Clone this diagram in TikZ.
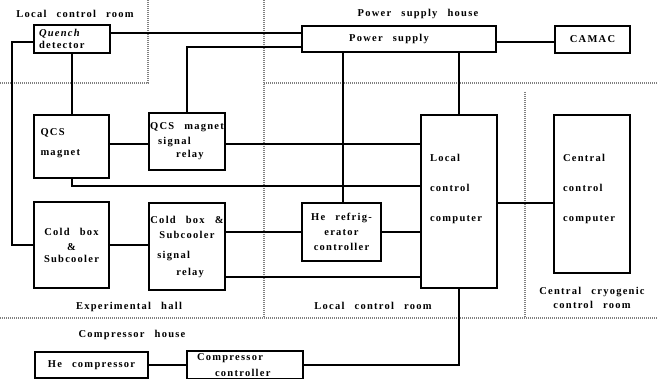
\documentclass[tikz,border=0pt]{standalone}
\usepackage{fontspec}
\setmainfont{Liberation Serif}[LetterSpace=12,WordSpace=2.6]
\begin{document}
\begin{tikzpicture}[x=1pt, y=-1pt,
    block/.style={rectangle, draw=black, line width=2.4pt, inner sep=1pt, font=\bfseries\fontsize{10.5}{12}\selectfont},
    wire/.style={black, line width=2pt},
    room/.style={draw=black!50, line width=1.8pt, dash pattern=on 1pt off 1pt},
    lbl/.style={font=\bfseries\fontsize{10.5}{12}\selectfont, inner sep=1pt, align=center}]

    \useasboundingbox (0,0) rectangle (658,379);

    % Room borders
    \draw[room] (148,0) -- (148,83) -- (0,83);
    \draw[room] (264,0) -- (264,318);
    \draw[room] (264,83) -- (658,83);
    \draw[room] (525,92) -- (525,318);
    \draw[room] (0,318) -- (658,318);

    % Top row
    \node[block, minimum width=76pt, minimum height=28pt, text width=66pt, align=left] (QD) at (72, 39) {\textit{Quench}\\detector};
    \node[block, minimum width=194pt, minimum height=26pt] (PS) at (399, 39) {Power supply\hspace*{20pt}};
    \node[block, minimum width=75pt, minimum height=27pt] (CAMAC) at (592.5, 39.5) {CAMAC};

    % Experimental hall
    \node[block, minimum width=75pt, minimum height=63pt, text width=62pt, align=left] (QM) at (71.5, 146.5) {QCS\\[8pt]magnet\\[-4pt]\mbox{}};
    \node[block, minimum width=76pt, minimum height=57pt, align=left] (QR) at (187, 141.5) {QCS magnet\\[3pt]\hspace*{8pt}signal\\[1pt]\hspace*{26pt}relay};
    \node[block, minimum width=75pt, minimum height=86pt, align=center] (CB) at (71.5, 245) {Cold box\\[3pt]\&\\Subcooler};
    \node[block, minimum width=76pt, minimum height=87pt, align=left] (CR) at (187, 246.5) {Cold box \&\\[3pt]\hspace*{9pt}Subcooler\\[8pt]\hspace*{7pt}signal\\[5pt]\hspace*{26pt}relay};

    % Local control room
    \node[block, minimum width=79pt, minimum height=58pt, align=center] (HR) at (341.5, 232) {He refrig-\\[3pt]erator\\[3pt]controller};
    \node[block, minimum width=76pt, minimum height=173pt, text width=58pt, align=left] (LC) at (459, 201.5) {Local\\[18pt]control\\[18pt]computer\\[15pt]\mbox{}};

    % Central cryogenic control room
    \node[block, minimum width=76pt, minimum height=158pt, text width=58pt, align=left] (CC) at (592, 194) {Central\\[18pt]control\\[18pt]computer\\[0pt]\mbox{}};

    % Compressor house
    \node[block, minimum width=113pt, minimum height=26pt] (HC) at (91.5, 365) {He compressor};
    \node[block, minimum width=116pt, minimum height=28pt, text width=100pt, align=left] (CpC) at (245, 365) {\hspace*{2pt}Compressor\\[4pt]\hspace*{20pt}controller};

    % Connections
    \draw[wire] ([yshift=6pt]QD.east) -- ([yshift=6pt]QD.east -| PS.west);
    \draw[wire] ([yshift=-8pt]PS.west) -| (QR.north);
    \draw[wire] (QD.south) -- (QD.south |- QM.north);
    \draw[wire] ([yshift=-3pt]QD.west) -- ++(-21,0) |- (CB.west);
    \draw[wire] ([yshift=2.5pt]QM.east) -- ([yshift=2.5pt]QM.east -| QR.west);
    \draw[wire] ([yshift=2.5pt]QM.east -| QR.east) -- ([yshift=2.5pt]QM.east -| LC.west);
    \draw[wire] ([xshift=0.5pt]QM.south) |- ([yshift=15.5pt]LC.west);
    \draw[wire] ([xshift=1.5pt]HR.north |- PS.south) -- ([xshift=1.5pt]HR.north);
    \draw[wire] (LC.north |- PS.south) -- (LC.north);
    \draw[wire] ([yshift=-3pt]PS.east) -- ([yshift=-3pt]PS.east -| CAMAC.west);
    \draw[wire] (CB.east) -- (CB.east -| CR.west);
    \draw[wire] (HR.west -| CR.east) -- (HR.west);
    \draw[wire] (HR.east) -- (HR.east -| LC.west);
    \draw[wire] ([yshift=-30.5pt]CR.east) -- ([yshift=-30.5pt]CR.east -| LC.west);
    \draw[wire] ([yshift=-1.5pt]LC.east) -- ([yshift=-1.5pt]LC.east -| CC.west);
    \draw[wire] (LC.south) |- (CpC.east);
    \draw[wire] (HC.east) -- (HC.east -| CpC.west);

    % Room names
    \node[lbl] (lcrA) at (75, 14) {Local control room};
    \node[lbl] (psh) at (418, 14) {Power supply house};
    \node[lbl] (exh) at (129, 307) {Experimental hall};
    \node[lbl] (lcrB) at (373, 306) {Local control room};
    \node[lbl] (ccr) at (592, 298) {Central cryogenic\\[2pt]control room};
    \node[lbl] (cph) at (132, 335) {Compressor house};

\end{tikzpicture}
\end{document}
